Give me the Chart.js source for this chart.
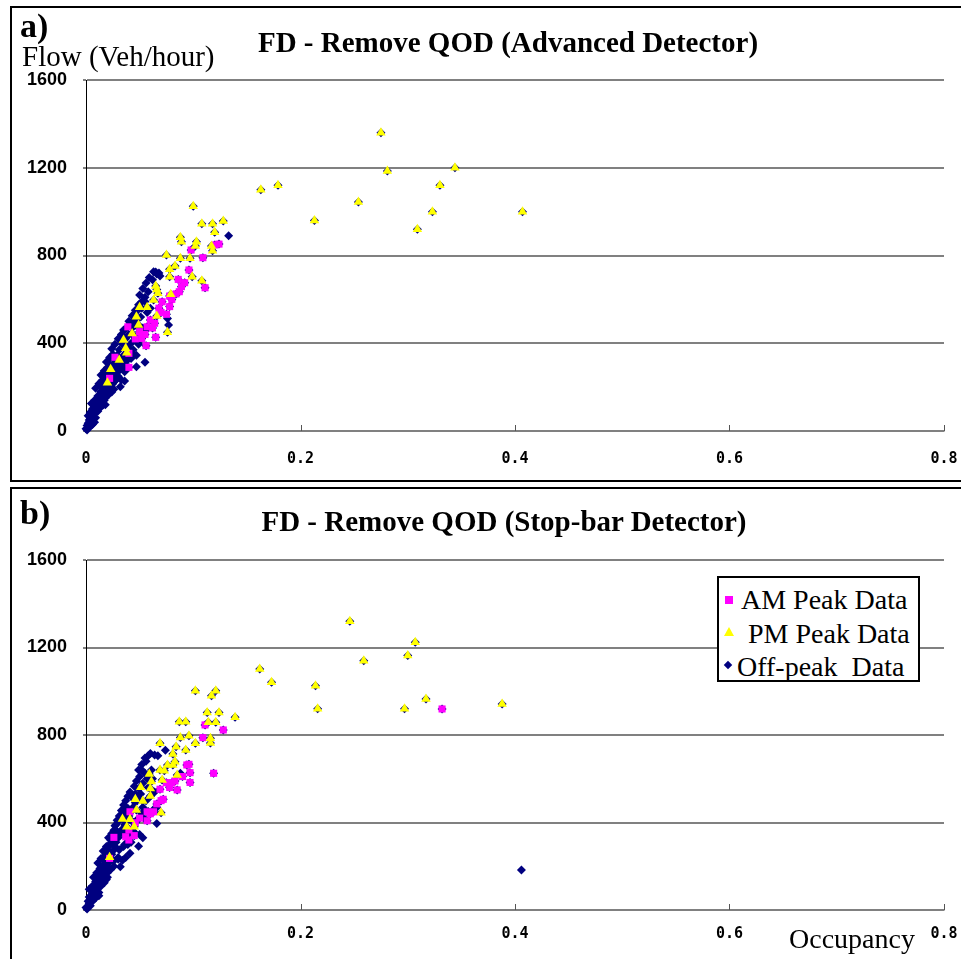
<!DOCTYPE html>
<html>
<head>
<meta charset="utf-8">
<script src="https://cdn.jsdelivr.net/npm/chart.js@4.4.1/dist/chart.umd.min.js"></script>
<style>
  html, body { margin: 0; padding: 0; background: #fff; }
  body { width: 961px; height: 959px; position: relative; overflow: hidden; }
  .box { position: absolute; left: 10px; width: 960px; border: 2px solid #000; box-sizing: border-box; }
  .cv { position: absolute; left: 0; }
  .txt { position: absolute; font-family: "Liberation Serif", "Times New Roman", serif; line-height: 1; white-space: nowrap; color: #000; }
  .panel { font-weight: bold; font-size: 34px; left: 20px; }
  .title { font-weight: bold; font-size: 29px; transform: translateX(-50%); }
  .legend { position: absolute; left: 717px; top: 576px; width: 203px; height: 106px; border: 2px solid #000; box-sizing: border-box; background: #fff; }
  .legend .row { position: absolute; left: 0; font-family: "Liberation Serif", serif; font-size: 28px; line-height: 1; white-space: nowrap; }
  .legend .mk { position: absolute; }
</style>
</head>
<body>
<div class="box" style="top:6px;height:476px;"></div>
<div class="box" style="top:487px;height:480px;"></div>

<canvas id="chartA" class="cv" width="961" height="482" style="top:0"></canvas>
<canvas id="chartB" class="cv" width="961" height="472" style="top:487px"></canvas>

<div class="txt panel" style="top:9px;">a)</div>
<div class="txt" style="left:22px;top:42px;font-size:29px;">Flow (Veh/hour)</div>
<div class="txt title" style="left:508px;top:28px;">FD - Remove QOD (Advanced Detector)</div>

<div class="txt panel" style="top:496px;">b)</div>
<div class="txt title" style="left:504px;top:507px;">FD - Remove QOD (Stop-bar Detector)</div>
<div class="txt" style="left:789px;top:925px;font-size:28px;">Occupancy</div>

<div class="legend">
  <div class="mk" style="left:6px;top:18px;width:8px;height:8px;background:#ff00ff;"></div>
  <div class="row" style="left:22px;top:8px;">AM Peak Data</div>
  <div class="mk" style="left:5px;top:49px;width:0;height:0;border-left:5px solid transparent;border-right:5px solid transparent;border-bottom:9px solid #ffff00;"></div>
  <div class="row" style="left:22px;top:42px;">&nbsp;PM Peak Data</div>
  <div class="mk" style="left:6px;top:84px;width:6px;height:6px;background:#000080;transform:rotate(45deg);"></div>
  <div class="row" style="left:18px;top:75px;">Off-peak&nbsp; Data</div>
</div>

<script>
// ---- data (occupancy, flow) ----
const xTicks = [0, 0.2, 0.4, 0.6, 0.8];
const yTicks = [0, 400, 800, 1200, 1600];

// a) advanced detector
const topAM = [
  [0.124,852],[0.120,848],[0.098,825],[0.109,790],[0.096,734],[0.086,691],[0.092,676],[0.089,658],
  [0.111,653],[0.087,635],[0.084,625],[0.078,615],[0.078,567],[0.075,532],[0.071,589],[0.060,506],
  [0.064,491],[0.057,475],[0.050,453],[0.052,422],[0.065,427],[0.056,389],[0.039,475],[0.027,336],
  [0.040,290],[0.022,240],[0.040,354],[0.068,560],[0.062,470],[0.055,440],[0.046,420],[0.080,600],
  [0.070,540]
];
const topPM = [
  [0.163,1100],[0.179,1120],[0.213,960],[0.254,1044],[0.275,1360],[0.281,1185],[0.309,920],[0.323,1000],
  [0.330,1120],[0.344,1200],[0.407,1000],
  [0.100,1025],[0.108,945],[0.118,945],[0.128,957],[0.120,906],[0.088,883],[0.089,863],[0.103,863],
  [0.102,843],[0.117,843],[0.118,822],[0.075,802],[0.088,787],[0.097,787],[0.083,752],[0.078,737],
  [0.078,703],[0.099,703],[0.108,685],[0.065,661],[0.067,628],[0.063,597],[0.079,623],[0.050,564],
  [0.057,564],[0.066,524],[0.047,521],[0.049,483],[0.043,445],[0.076,450],[0.035,415],[0.037,377],
  [0.038,357],[0.031,324],[0.023,281],[0.020,220],[0.066,645]
];
const topOff = [
  [0.001,5],[0.002,15],[0.003,25],[0.003,40],[0.004,30],[0.005,55],[0.005,70],[0.006,45],[0.007,90],
  [0.007,65],[0.008,110],[0.008,80],[0.009,100],[0.010,130],[0.010,95],[0.011,120],[0.012,150],[0.012,110],
  [0.013,160],[0.013,135],[0.014,180],[0.015,150],[0.015,200],[0.016,170],[0.017,215],[0.017,140],
  [0.018,190],[0.019,240],[0.019,165],[0.020,210],[0.021,260],[0.021,185],[0.022,230],[0.023,280],
  [0.023,200],[0.024,250],[0.025,300],[0.025,215],[0.026,270],[0.027,320],[0.027,230],[0.028,290],
  [0.029,345],[0.030,250],[0.030,310],[0.031,370],[0.032,202],[0.032,280],[0.033,330],[0.034,395],
  [0.035,300],[0.035,460],[0.036,350],[0.037,420],[0.038,320],[0.039,380],[0.040,440],[0.041,345],
  [0.042,400],[0.043,470],[0.044,498],[0.044,370],[0.045,430],[0.046,539],[0.047,293],[0.047,480],
  [0.048,510],[0.049,395],[0.050,560],[0.052,589],[0.053,450],[0.055,313],[0.055,610],[0.058,635],
  [0.060,560],[0.063,726],[0.066,716],[0.069,706],[0.077,483],[0.076,513],[0.133,890],[0.016,248],
  [0.021,309],[0.036,270],[0.026,190],[0.018,120],[0.009,60],[0.004,20],[0.042,330],[0.051,520],
  [0.000,10],[0.001,25],[0.002,35],[0.003,50],[0.004,60],[0.006,30],[0.008,40],
  [0.002,70],[0.004,85],[0.006,100],[0.008,115],[0.011,90],[0.013,105],[0.016,120],
  [0.005,125],[0.008,140],[0.011,160],[0.014,175],[0.018,150],[0.021,165],[0.024,178],
  [0.009,195],[0.012,215],[0.015,230],[0.022,210],[0.026,225],[0.029,238],[0.033,232],[0.036,228],
  [0.014,255],[0.017,275],[0.020,290],[0.028,265],[0.031,280],[0.034,295],[0.038,288],
  [0.019,315],[0.022,335],[0.025,350],[0.033,320],[0.037,340],[0.040,355],[0.044,348],[0.047,345],
  [0.024,375],[0.027,395],[0.030,420],[0.033,440],[0.036,460],[0.039,475],[0.048,410],[0.050,435],
  [0.053,470],[0.056,460],[0.040,500],[0.043,525],[0.046,550],[0.049,575],[0.052,560],[0.055,590],
  [0.057,540],[0.050,620],[0.053,650],[0.056,675],[0.059,700],[0.062,690],[0.065,725],[0.068,720]
];

// b) stop-bar detector
const botAM = [
  [0.332,919],[0.128,823],[0.109,788],[0.111,846],[0.119,625],[0.096,666],[0.097,628],[0.097,583],
  [0.085,549],[0.094,663],[0.080,582],[0.075,582],[0.069,552],[0.072,506],[0.066,485],[0.063,449],
  [0.057,449],[0.057,408],[0.041,449],[0.046,399],[0.040,366],[0.040,320],[0.037,335],[0.026,332],
  [0.022,236],[0.078,560],[0.070,500],[0.060,440],[0.090,610],[0.083,590],[0.050,420],[0.045,340]
];
const botPM = [
  [0.246,1320],[0.307,1224],[0.300,1163],[0.259,1140],[0.162,1102],[0.173,1041],[0.214,1025],[0.121,1002],
  [0.117,980],[0.317,965],[0.388,942],[0.216,920],[0.297,920],[0.113,903],[0.124,903],[0.139,881],
  [0.114,858],[0.121,858],[0.116,763],
  [0.102,1002],[0.087,861],[0.093,861],[0.088,789],[0.096,797],[0.116,785],[0.102,762],[0.069,762],
  [0.084,746],[0.093,731],[0.081,713],[0.083,678],[0.081,663],[0.076,663],[0.069,640],[0.059,622],
  [0.073,637],[0.085,617],[0.071,594],[0.061,587],[0.060,556],[0.051,561],[0.060,521],[0.046,506],
  [0.053,498],[0.047,457],[0.070,445],[0.034,416],[0.041,415],[0.038,381],[0.045,381],[0.022,241]
];
const botOff = [
  [0.001,5],[0.002,15],[0.003,30],[0.004,45],[0.004,20],[0.005,60],[0.006,40],[0.007,80],[0.007,55],
  [0.008,100],[0.009,75],[0.010,120],[0.010,90],[0.011,140],[0.012,105],[0.013,160],[0.013,125],
  [0.014,185],[0.015,145],[0.016,205],[0.016,165],[0.017,230],[0.018,180],[0.019,250],[0.019,200],
  [0.020,275],[0.021,215],[0.022,295],[0.022,235],[0.023,320],[0.024,255],[0.025,345],[0.025,270],
  [0.026,365],[0.027,290],[0.028,390],[0.028,310],[0.029,410],[0.030,330],[0.031,430],[0.032,198],
  [0.032,350],[0.033,455],[0.034,370],[0.035,457],[0.035,480],[0.036,390],[0.037,500],[0.038,410],
  [0.039,520],[0.040,430],[0.041,259],[0.041,540],[0.042,450],[0.043,513],[0.044,470],[0.045,566],
  [0.046,490],[0.047,590],[0.048,510],[0.049,292],[0.050,610],[0.051,530],[0.052,640],[0.053,470],
  [0.055,625],[0.056,680],[0.058,560],[0.060,716],[0.062,600],[0.064,709],[0.066,396],[0.074,730],
  [0.088,625],[0.406,183],[0.030,240],[0.036,300],[0.020,150],[0.012,80],[0.044,360],[0.054,420],
  [0.000,12],[0.002,40],[0.003,60],[0.006,75],[0.009,55],[0.012,65],
  [0.003,95],[0.006,110],[0.009,130],[0.014,110],[0.017,125],[0.019,140],
  [0.007,150],[0.010,170],[0.013,190],[0.020,170],[0.023,185],[0.026,200],
  [0.011,215],[0.014,235],[0.018,250],[0.026,225],[0.030,232],[0.034,228],[0.037,240],
  [0.016,270],[0.019,290],[0.023,305],[0.031,275],[0.035,290],[0.039,300],[0.042,310],
  [0.021,330],[0.024,350],[0.028,365],[0.036,345],[0.041,355],[0.046,350],[0.050,345],[0.053,330],
  [0.027,385],[0.030,405],[0.033,425],[0.044,400],[0.048,415],[0.052,440],[0.058,450],[0.063,460],
  [0.066,470],[0.036,445],[0.039,465],[0.056,500],[0.060,520],[0.064,540],[0.046,530],[0.049,555],
  [0.053,580],[0.057,600],[0.061,640],[0.049,640],[0.052,665],[0.055,695],[0.058,705],[0.067,705]
];

const AM_COLOR = "#ff00ff";
const PM_COLOR = "#ffff00";
const OFF_COLOR = "#000080";

function toPts(arr) {
  return arr.map(p => ({ x: p[0], y: p[1] }));
}

// small tick marks pointing up from the occupancy axis
const innerTicks = {
  id: "innerTicks",
  afterDraw(chart) {
    const xs = chart.scales.x;
    const ctx = chart.ctx;
    const yb = chart.chartArea.bottom;
    ctx.save();
    ctx.strokeStyle = "#555";
    ctx.lineWidth = 1;
    xTicks.slice(1).forEach(v => {
      const px = Math.round(xs.getPixelForValue(v)) + 0.5;
      ctx.beginPath();
      ctx.moveTo(px, yb - 6);
      ctx.lineTo(px, yb);
      ctx.stroke();
    });
    ctx.restore();
  }
};

function makeChart(id, am, pm, off, topPad, xHeight, xPad) {
  const el = document.getElementById(id);
  return new Chart(el, {
    type: "scatter",
    data: {
      datasets: [
        { label: "PM Peak Data", data: toPts(pm), pointStyle: "triangle", pointRadius: 5.5,
          backgroundColor: PM_COLOR, borderColor: PM_COLOR, borderWidth: 0, clip: false },
        { label: "AM Peak Data", data: toPts(am), pointStyle: "rect", pointRadius: 5,
          backgroundColor: AM_COLOR, borderColor: AM_COLOR, borderWidth: 0, clip: false },
        // navy markers also sit under the peak-period points in the figure
        { label: "Off-peak  Data", data: toPts(off.concat(am, pm)), pointStyle: "rectRot", pointRadius: 4.5,
          backgroundColor: OFF_COLOR, borderColor: OFF_COLOR, borderWidth: 0, clip: false }
      ]
    },
    options: {
      responsive: false,
      animation: false,
      events: [],
      layout: { padding: { top: topPad, right: 17, left: 0, bottom: 0 } },
      plugins: { legend: { display: false }, tooltip: { enabled: false } },
      scales: {
        x: {
          type: "linear", min: 0, max: 0.8,
          afterBuildTicks: s => { s.ticks = xTicks.map(v => ({ value: v })); },
          afterFit: s => { s.height = xHeight; s.paddingRight = 0; s.paddingLeft = 0; },
          grid: { display: false },
          border: { display: true, color: "#808080", width: 1.5 },
          ticks: {
            padding: xPad, color: "#000",
            font: { family: "DejaVu Sans Mono", size: 15, weight: "bold" },
            callback: v => (v === 0 ? "0" : v.toFixed(1))
          }
        },
        y: {
          type: "linear", min: 0, max: 1600,
          afterBuildTicks: s => { s.ticks = yTicks.map(v => ({ value: v })); },
          afterFit: s => { s.width = 86; },
          grid: { color: "#808080", lineWidth: 2, drawTicks: true, tickLength: 3 },
          border: { display: true, color: "#000", width: 1 },
          ticks: {
            padding: 16, color: "#000",
            font: { family: "Liberation Sans", size: 18, weight: "bold" },
            callback: v => String(v)
          }
        }
      }
    },
    plugins: [innerTicks]
  });
}

makeChart("chartA", topAM, topPM, topOff, 80, 51, 11);
makeChart("chartB", botAM, botPM, botOff, 73, 49, 7);
</script>
</body>
</html>
